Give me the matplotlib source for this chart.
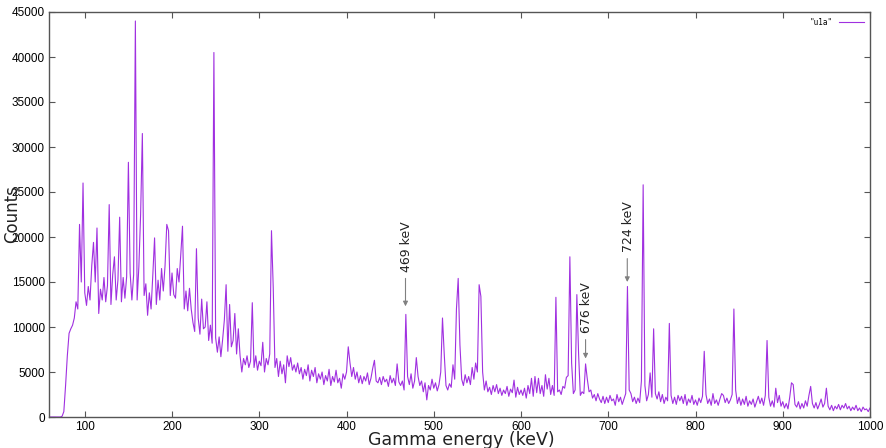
import numpy as np
import matplotlib
matplotlib.use("Agg")
import matplotlib.pyplot as plt

# energy grid (keV), 2 keV bins
energia = np.arange(60, 1001, 2)

cuentas = [
    0, 0, 0, 0, 0, 0, 0, 80, 600, 3500,                                   # 60
    6800, 9300, 9800, 10200, 11000, 12800, 12000, 21400, 15000, 26000,    # 80
    13800, 12400, 14500, 13000, 16800, 19400, 15000, 21000, 11500, 14200,  # 100
    13000, 15500, 12800, 14600, 23600, 12500, 15800, 17800, 13000, 15200,  # 120
    22200, 12800, 15500, 13200, 15600, 28300, 16000, 13000, 15800, 44000,  # 140
    13000, 16700, 22500, 31500, 13500, 14800, 11300, 13800, 12000, 15800,  # 160
    19900, 12500, 15200, 13000, 16500, 14000, 16800, 21400, 20700, 13500,  # 180
    16000, 13600, 13200, 16500, 15000, 18000, 21200, 12000, 14000, 11800,  # 200
    14300, 12000, 10500, 9500, 18700, 11000, 9200, 13100, 9800, 10000,     # 220
    12800, 8500, 10200, 8200, 40500, 8800, 7200, 8900, 6700, 8600,         # 240
    10800, 14700, 7300, 12500, 7800, 8500, 11500, 7000, 9800, 6800,        # 260
    5000, 6500, 5800, 6800, 5500, 6200, 12700, 5500, 6800, 5200,           # 280
    6200, 5700, 8300, 5000, 6500, 5800, 7000, 20700, 14400, 5500,          # 300
    6500, 4500, 6200, 4800, 5800, 3800, 6800, 5600, 6600, 5200,            # 320
    5800, 5000, 6000, 4800, 5500, 4200, 5300, 4600, 5800, 4000,            # 340
    5200, 4500, 5500, 3800, 4800, 4200, 5000, 3600, 4600, 4000,            # 360
    5300, 3500, 4500, 3900, 5200, 3800, 4300, 3200, 4800, 4200,            # 380
    5000, 7800, 6000, 4500, 5500, 4200, 5000, 3800, 4600, 3700,            # 400
    4500, 4000, 4900, 3600, 4300, 5400, 6300, 4000, 3800, 4400,            # 420
    3600, 4500, 3900, 4200, 3400, 4600, 3800, 4300, 3500, 5900,            # 440
    3900, 3500, 4000, 3000, 11400, 4500, 3600, 4800, 3200, 4000,           # 460
    6600, 4500, 3500, 4000, 2800, 3800, 1900, 3500, 3000, 4200,            # 480
    3200, 3800, 2900, 3600, 5000, 11000, 7000, 3500, 3000, 3700,           # 500
    3300, 5800, 4200, 12000, 15400, 8000, 4200, 3500, 4700, 3800,          # 520
    4500, 3600, 5500, 4200, 6000, 5000, 14700, 13400, 5000, 3000,          # 540
    4000, 2800, 3300, 2500, 3500, 2800, 3600, 2600, 3200, 2400,            # 560
    3000, 2600, 3400, 2300, 3100, 2700, 4100, 2200, 3300, 2500,            # 580
    3000, 2400, 3200, 2100, 3500, 2600, 4300, 2300, 4500, 2700,            # 600
    4300, 2600, 3500, 2300, 4700, 3100, 4300, 2500, 3500, 2400,            # 620
    13300, 2800, 3000, 2500, 3400, 3200, 4400, 4600, 17800, 6000,          # 640
    2600, 3000, 13600, 7000, 2400, 2800, 2600, 5900, 4200, 2800,           # 660
    3000, 2100, 2500, 1800, 2600, 2000, 1600, 2300, 1500, 2200,            # 680
    1600, 2400, 1800, 2000, 1300, 2500, 1700, 2200, 1400, 2000,            # 700
    2600, 14500, 3000, 2600, 1700, 2200, 1500, 2100, 1600, 4000,           # 720
    25800, 3500, 1800, 2500, 4900, 2200, 9800, 2600, 2000, 2800,           # 740
    1700, 2500, 1500, 2200, 1800, 10400, 2400, 1500, 2200, 1400,           # 760
    2400, 1800, 2300, 1500, 2500, 1300, 2000, 1600, 2400, 1400,            # 780
    1900, 1300, 2100, 1600, 2300, 7300, 2500, 1500, 2000, 1300,            # 800
    2600, 1500, 1900, 1300, 2000, 2600, 2400, 1600, 2100, 1500,            # 820
    1900, 2500, 12000, 3000, 1500, 2200, 1300, 2000, 1400, 2300,           # 840
    1200, 1800, 1400, 2000, 1100, 1700, 2300, 1500, 2100, 1300,            # 860
    2400, 8500, 2200, 1200, 1800, 1100, 3200, 1600, 2400, 1200,            # 880
    1700, 1000, 1500, 900, 2200, 3800, 3600, 1400, 1100, 1700,             # 900
    900, 1500, 1000, 1800, 1200, 2400, 3400, 1500, 1000, 1600,             # 920
    900, 1400, 2000, 1100, 1500, 3200, 1200, 800, 1300, 700,               # 940
    1200, 900, 1400, 800, 1300, 1000, 1500, 900, 1200, 700,                # 960
    1100, 800, 1300, 700, 1000, 600, 1100, 800, 900, 600,                  # 980
    1000,                                                                  # 1000
]

# flechas: (texto, energia de la flecha, cuentas punta, cuentas cola)
etiquetas = ["469 keV", "676 keV", "724 keV"]
flecha_x = [467.6, 674.0, 721.8]
flecha_punta = [12300, 6500, 15000]
flecha_cola = [15400, 8600, 17600]

fig = plt.figure(figsize=(8.86, 4.48), dpi=100)
ax = fig.add_axes([49 / 886, 31 / 448, 821 / 886, 405 / 448])

ax.plot(energia, cuentas, color="#a030e0", lw=0.8, label='"u1a"')

ax.set_xlim(59, 1000)
ax.set_ylim(0, 45000)
ax.set_xticks(range(100, 1001, 100))
ax.set_yticks(range(0, 45001, 5000))

for lado in ax.spines.values():
    lado.set_color("#555555")
    lado.set_linewidth(1.0)
ax.tick_params(direction="in", top=True, right=True, length=4, width=0.8,
               color="#555555", labelsize=8.5, pad=3)
for t in ax.get_xticklabels() + ax.get_yticklabels():
    t.set_fontfamily("Liberation Sans")

for txt, x, punta, cola in zip(etiquetas, flecha_x, flecha_punta, flecha_cola):
    ax.annotate("", xy=(x, punta), xytext=(x, cola),
                arrowprops=dict(arrowstyle="-|>", color="#808080", lw=0.8,
                                mutation_scale=7, shrinkA=0, shrinkB=0))
    ax.text(x + 1, cola + 700, txt, rotation=90, ha="center", va="bottom",
            fontsize=9, color="#222222")

ax.legend(loc="upper right", frameon=False, markerfirst=False,
          handlelength=3.2, borderaxespad=0.4, prop={"family": "DejaVu Sans Mono", "size": 5.5})

fig.text(12 / 886, 1 - 214 / 448, "Counts", rotation=90, ha="center", va="center",
         fontsize=12, color="#222222")
fig.text(461 / 886, 3 / 448, "Gamma energy (keV)", ha="center", va="baseline",
         fontsize=12.5, color="#222222")

fig.savefig("out.png", dpi=100)
